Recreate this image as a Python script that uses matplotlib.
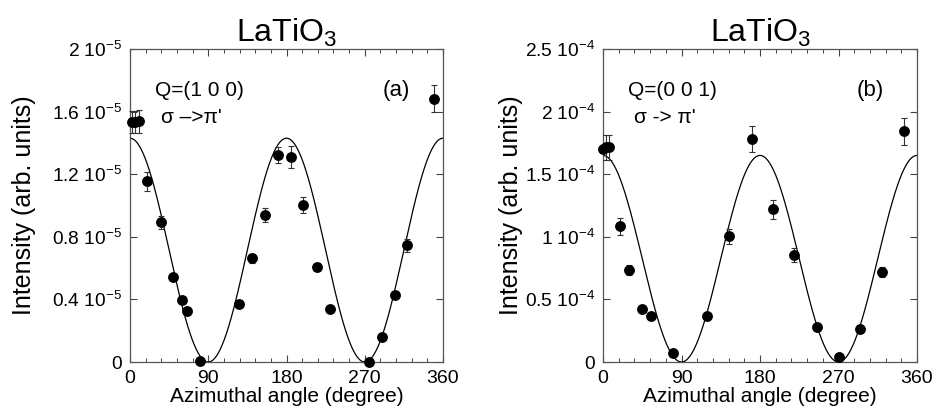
import numpy as np
import matplotlib
matplotlib.use("Agg")
import matplotlib.pyplot as plt
from matplotlib.ticker import MultipleLocator

plt.rcParams['font.family'] = ['Liberation Sans', 'DejaVu Sans']
plt.rcParams['mathtext.fontset'] = 'custom'
plt.rcParams['mathtext.rm'] = 'Liberation Sans'
plt.rcParams['mathtext.it'] = 'Liberation Sans:italic'
plt.rcParams['mathtext.bf'] = 'Liberation Sans:bold'
plt.rcParams['mathtext.default'] = 'regular'

# ---- Panel (a): Q=(1 0 0), intensity in units of 1e-5 ----
angle_a = [2.7, 5.7, 10.3, 19.1, 35.2, 49.4, 59.4, 65.5, 80.4, 125.2, 140.6, 155.1,
           169.7, 185.4, 199.5, 214.8, 229.8, 274.6, 289.9, 304.5, 319.0, 349.3]
inten_a = [1.534, 1.534, 1.538, 1.154, 0.892, 0.543, 0.396, 0.328, 0.004, 0.373, 0.662, 0.939,
           1.323, 1.310, 1.005, 0.609, 0.341, 0.000, 0.158, 0.428, 0.745, 1.683]
err_a = [0.07, 0.07, 0.075, 0.06, 0.04, 0.02, 0.02, 0.02, 0.01, 0.015, 0.03, 0.045,
         0.05, 0.07, 0.05, 0.025, 0.015, 0.01, 0.015, 0.02, 0.04, 0.085]
fit_amp_a = 1.43
yticks_a = [0, 0.4, 0.8, 1.2, 1.6, 2.0]
yticklabels_a = ['0', '0.4 10$^{-5}$', '0.8 10$^{-5}$', '1.2 10$^{-5}$', '1.6 10$^{-5}$', '2 10$^{-5}$']

# ---- Panel (b): Q=(0 0 1), intensity in units of 1e-4 ----
angle_b = [0.0, 3.1, 6.9, 19.9, 29.9, 44.8, 54.8, 80.4, 119.5, 144.8, 170.4, 195.3,
           219.4, 245.1, 270.0, 294.9, 319.8, 344.7]
inten_b = [1.701, 1.715, 1.717, 1.084, 0.732, 0.426, 0.365, 0.072, 0.365, 1.006, 1.781, 1.219,
           0.857, 0.277, 0.037, 0.264, 0.716, 1.842]
err_b = [0.02, 0.10, 0.10, 0.067, 0.04, 0.01, 0.01, 0.01, 0.015, 0.06, 0.107, 0.076,
         0.056, 0.01, 0.01, 0.01, 0.04, 0.11]
fit_amp_b = 1.65
yticks_b = [0, 0.5, 1.0, 1.5, 2.0, 2.5]
yticklabels_b = ['0', '0.5 10$^{-4}$', '1 10$^{-4}$', '1.5 10$^{-4}$', '2 10$^{-4}$', '2.5 10$^{-4}$']

xticks = [0, 90, 180, 270, 360]
xticklabels = ['0', '90', '180', '270', '360']

W, H = 934, 411
fig = plt.figure(figsize=(W / 100, H / 100), dpi=100)

def make_axes(x0, x1, y_top, y_bot):
    return fig.add_axes([x0 / W, 1 - y_bot / H, (x1 - x0) / W, (y_bot - y_top) / H])

ax_a = make_axes(130, 443, 49, 362)
ax_b = make_axes(603, 917, 49, 362)

phi = np.linspace(0, 360, 721)

panels = [
    (ax_a, angle_a, inten_a, err_a, fit_amp_a, yticks_a, yticklabels_a, 'Q=(1 0 0)', "σ –>π'", '(a)', -0.30),
    (ax_b, angle_b, inten_b, err_b, fit_amp_b, yticks_b, yticklabels_b, 'Q=(0 0 1)', "σ -> π'", '(b)', -0.255),
]

for ax, ang, inten, err, amp, yt, ytl, qtxt, pol, lab, ylx in panels:
    ax.plot(phi, amp * np.cos(np.radians(phi)) ** 2, color='black', lw=0.9, zorder=2)
    ax.errorbar(ang, inten, yerr=err, fmt='o', color='black', ms=6.8, mec='black',
                ecolor='#333333', elinewidth=0.8, capsize=2.2, capthick=0.8, zorder=3,
                clip_on=False)
    ax.set_xlim(0, 360)
    ax.set_ylim(0, yt[-1])
    ax.set_xticks(xticks)
    ax.set_xticklabels(xticklabels)
    ax.xaxis.set_minor_locator(MultipleLocator(18))
    ax.set_yticks(yt)
    ax.set_yticklabels(ytl)
    ax.tick_params(which='both', direction='in', top=True, right=True, colors='#444444',
                   labelcolor='black')
    ax.tick_params(axis='x', which='major', length=5, width=0.8, labelsize=14, pad=5.5)
    ax.tick_params(axis='x', which='minor', length=3, width=0.7)
    ax.tick_params(axis='y', which='major', length=5, width=0.8, labelsize=13.8, pad=5.5)
    for s in ax.spines.values():
        s.set_color('#555555')
        s.set_linewidth(0.9)
    ax.set_xlabel('Azimuthal angle (degree)', fontsize=15, labelpad=0)
    ax.set_ylabel('Intensity (arb. units)', fontsize=18)
    ax.yaxis.set_label_coords(ylx, 0.5)
    ax.set_title('LaTiO$_3$', fontsize=23, pad=5)
    ax.text(0.08, 0.85, qtxt, transform=ax.transAxes, fontsize=15, ha='left', va='baseline')
    ax.text(0.10, 0.765, pol, transform=ax.transAxes, fontsize=15, ha='left', va='baseline')
    ax.text(0.895, 0.85, lab, transform=ax.transAxes, fontsize=16, ha='right', va='baseline')

fig.savefig('out.png', dpi=100)
